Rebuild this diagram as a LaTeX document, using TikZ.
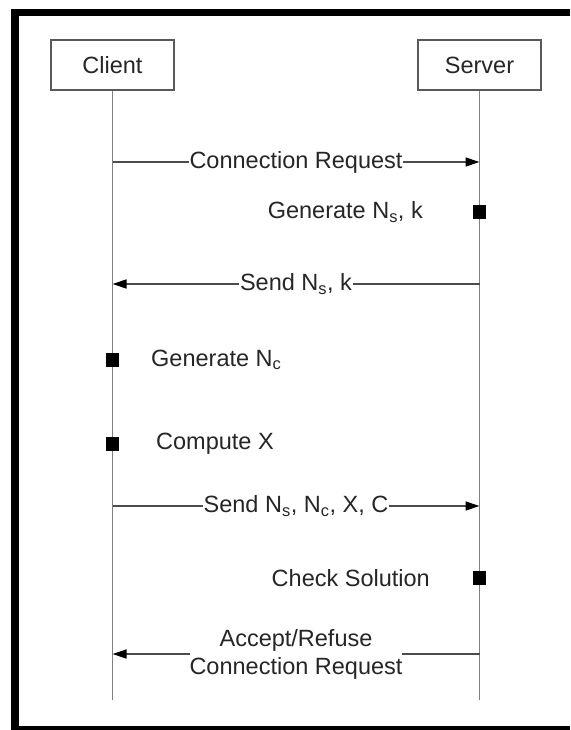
\documentclass[tikz,border=0pt]{standalone}
\usepackage{fontspec}
\setmainfont{Liberation Sans}
\usetikzlibrary{arrows.meta}
\begin{document}
\begin{tikzpicture}[x=1pt,y=-1pt,
  font=\fontsize{23.5}{28}\selectfont,
  actor/.style={draw=black!65, line width=1.4pt, fill=white, minimum width=123pt, minimum height=50pt, inner sep=0pt, text=black!85},
  lifeline/.style={draw=black!50, line width=1.4pt},
  msg/.style={draw=black!70, line width=1.3pt, -{Triangle[length=14pt,width=9pt,color=black]}},
  lbl/.style={fill=white, inner xsep=1pt, inner ysep=1pt, text=black!85},
  act/.style={fill=black, minimum width=13pt, minimum height=14pt, inner sep=0pt},
  note/.style={text=black!85, inner sep=0pt}]
\useasboundingbox (0,0) rectangle (570,730);
% frame
\fill[black] (11,9) rectangle (570,730);
\fill[white] (19,16) rectangle (570,726);
% actors
\node[actor] (client) at (112.5,65) {Client};
\node[actor] (server) at (479.5,65) {Server};
\coordinate (cend) at (112.5,700);
\coordinate (send) at (479.5,700);
\draw[lifeline] (client.south) -- (cend);
\draw[lifeline] (server.south) -- (send);
% message anchors
\coordinate (c1) at (112.5,162); \coordinate (s1) at (479.5,162);
\coordinate (c2) at (112.5,284); \coordinate (s2) at (479.5,284);
\coordinate (c3) at (112.5,506); \coordinate (s3) at (479.5,506);
\coordinate (c4) at (112.5,654); \coordinate (s4) at (479.5,654);
% messages
\draw[msg] (c1) -- node[lbl] (m1) {Connection Request} (s1);
\draw[msg] (s2) -- node[lbl] (m2) {Send N\textsubscript{s}, k} (c2);
\draw[msg] (c3) -- node[lbl] (m3) {Send N\textsubscript{s}, N\textsubscript{c}, X, C} (s3);
\draw[msg] (s4) -- node[lbl, align=center, inner xsep=0pt] (m4) {Accept/Refuse\\Connection Request} (c4);
% activities
\node[act] (a1) at (479.5,212) {};
\node[note, anchor=east] (n1) at (423,212) {Generate N\textsubscript{s}, k};
\node[act] (a2) at (112.5,360) {};
\node[note, anchor=west] (n2) at (151,360) {Generate N\textsubscript{c}};
\node[act] (a3) at (112.5,444) {};
\node[note, anchor=west] (n3) at (156,444) {Compute X};
\node[act] (a4) at (479.5,578) {};
\node[note, anchor=east] (n4) at (430,578) {Check Solution};
\end{tikzpicture}
\end{document}
